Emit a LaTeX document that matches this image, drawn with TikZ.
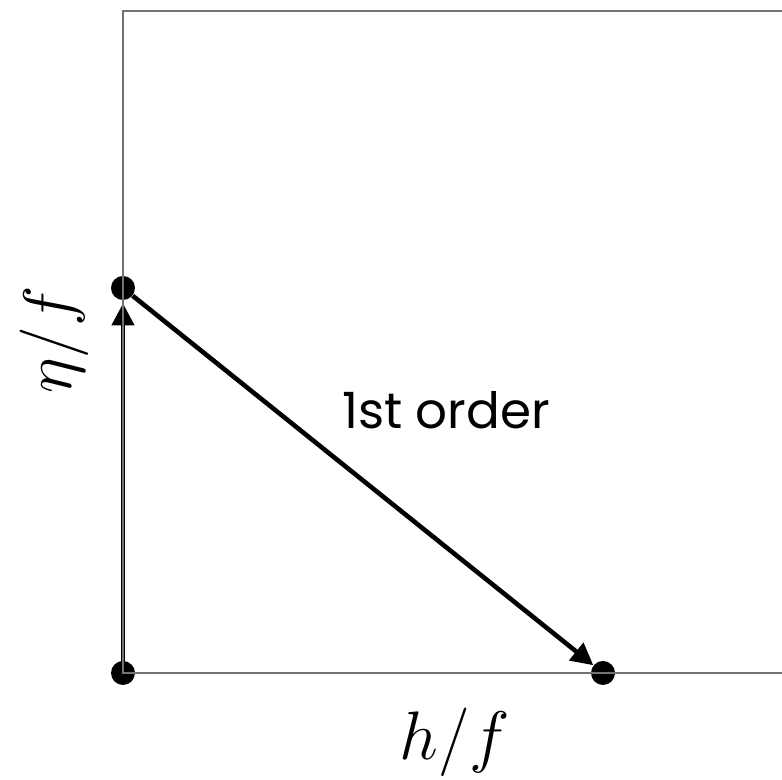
\documentclass[tikz,border=0pt]{standalone}
\usepackage{amsmath,amssymb}
\usepackage{fontspec}
\newfontfamily\labelfont{Poppins}
\usetikzlibrary{arrows.meta,calc,positioning}

\begin{document}
\begin{tikzpicture}[
  x=0.5pt,y=0.5pt,
  dot/.style={circle,fill=black,inner sep=0pt,minimum size=12pt},
  arrow/.style={-{Triangle[length=11pt,width=11pt]},line width=2.3pt},
  frame/.style={draw=black!55,line width=1pt},
  axislabel/.style={font=\fontsize{24.88}{30}\selectfont,scale=1.38}
]
\useasboundingbox (0,0) rectangle (782,780);
\node[dot] (o) at (123,107) {};
\node[dot] (a) at (123,492) {};
\node[dot] (b) at (603,107) {};
\coordinate (tl) at (123,769);
\coordinate (tr) at (782,769);
\coordinate (br) at (782,107);
\draw[arrow] (o.center) -- ([yshift=-1.5pt]a.south);
\draw[arrow] (a) -- (b);
\node[font=\labelfont\fontsize{25}{30}\selectfont] (lbl) at (446,370) {1st order};
\node[axislabel] (xlab) at (455,38) {$h/f$};
\node[axislabel,rotate=90] (ylab) at (54,440) {$\eta/f$};
% frame on top
\draw[frame] (tr) -- (tl) -- (o.center) -- (br);
\end{tikzpicture}
\end{document}
